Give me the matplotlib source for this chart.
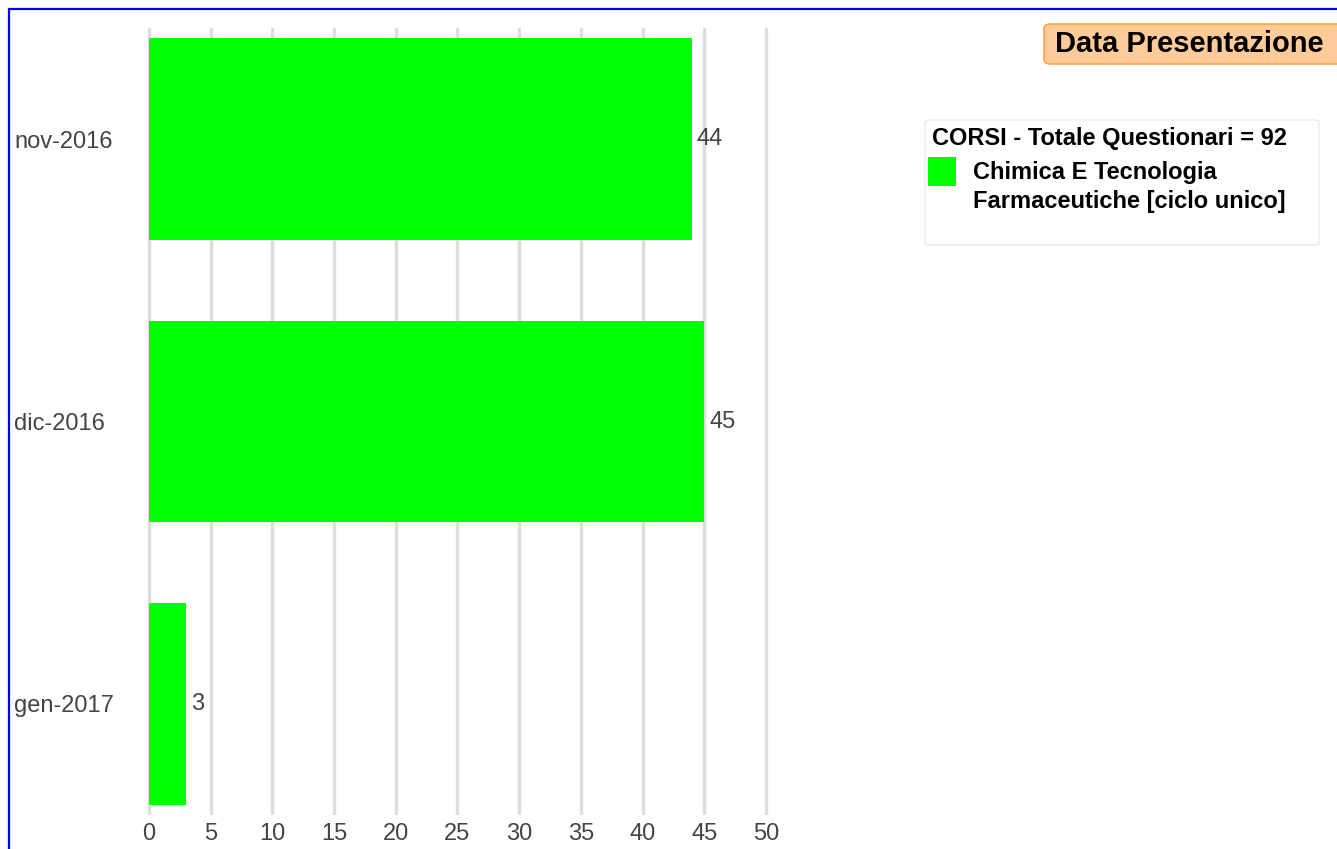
import matplotlib
matplotlib.use("Agg")
import matplotlib.pyplot as plt
from matplotlib.patches import Rectangle, FancyBboxPatch

plt.rcParams["font.family"] = ["Liberation Sans", "DejaVu Sans"]

# ── data ───────────────────────────────────────────────────────────────────────
mesi = ["nov-2016", "dic-2016", "gen-2017"]
questionari = [44, 45, 3]
corso = "Chimica E Tecnologia\nFarmaceutiche [ciclo unico]"
x_ticks = [0, 5, 10, 15, 20, 25, 30, 35, 40, 45, 50]
totale = sum(questionari)
VERDE = "#00ff00"

W, H = 1337, 849
fig = plt.figure(figsize=(W / 100, H / 100), dpi=100)


def fx(px):
    return px / W


def fy(py):
    return 1 - py / H


# axes placed in pixels: x=0 at 149px, x=50 at 766px
px_per_unit = (766 - 149) / 50
x_lo, x_hi = -0.5, 51
left_px = 149 + x_lo * px_per_unit
right_px = 149 + x_hi * px_per_unit
top_px, bot_px = 28, 815
ax = fig.add_axes([fx(left_px), fy(bot_px),
                   (right_px - left_px) / W, (bot_px - top_px) / H])

pos = list(range(len(mesi)))
ax.barh(pos, questionari, height=0.715, color=VERDE, edgecolor="none", zorder=2)
for p, v in zip(pos, questionari):
    ax.annotate(str(v), (v, p), xytext=(3.5, 0), textcoords="offset points",
                va="center", ha="left", fontsize=17, color="#444444")

ax.set_xlim(x_lo, x_hi)
ax.set_ylim(2.393, -0.393)
ax.set_xticks(x_ticks)
ax.set_yticks(pos)
ax.set_yticklabels(mesi, ha="left")
ax.tick_params(axis="x", length=0, pad=6, labelsize=17, labelcolor="#444444")
ax.tick_params(axis="y", length=0, pad=(left_px - 14) * 0.72,
               labelsize=17, labelcolor="#444444")
ax.grid(axis="x", color="#dddddd", linewidth=2.4, zorder=0)
ax.grid(axis="y", visible=False)
ax.set_axisbelow(True)
for s in ax.spines.values():
    s.set_visible(False)

# ── legend (drawn by hand to keep the swatch on the first line) ─────────────────
fig.patches.append(FancyBboxPatch((fx(925), fy(245)), (1319 - 925) / W,
                                  (245 - 120) / H,
                                  boxstyle="round,pad=0,rounding_size=0.003",
                                  transform=fig.transFigure, fc="white",
                                  ec="#e6e6e6", lw=0.8))
fig.text(fx(932), fy(139), f"CORSI - Totale Questionari = {totale}",
         ha="left", va="center", fontsize=17, fontweight="bold", color="black")
fig.patches.append(Rectangle((fx(928), fy(186)), 28 / W, 29 / H,
                             transform=fig.transFigure, fc=VERDE, ec="none"))
fig.text(fx(973), fy(187), corso, ha="left", va="center", fontsize=17,
         fontweight="bold", color="black", linespacing=1.3)

# ── title box ────────────────────────────────────────────────────────────────
fig.patches.append(FancyBboxPatch((fx(1044), fy(64)), 300 / W, 40 / H,
                                  boxstyle="round,pad=0,rounding_size=0.005",
                                  transform=fig.transFigure, fc="#ffcc99",
                                  ec="#ff9933", lw=1))
fig.text(fx(1055), fy(44), "Data Presentazione", ha="left", va="center",
         fontsize=21, fontweight="bold", color="black")

# blue frame (right and bottom edges lie outside the picture)
fig.patches.append(Rectangle((fx(8.5), -0.1), 1.5, 1 - 8.5 / H + 0.1,
                             transform=fig.transFigure, fill=False,
                             edgecolor="#0000ff", linewidth=1.6))

fig.savefig("out.png", dpi=100)
